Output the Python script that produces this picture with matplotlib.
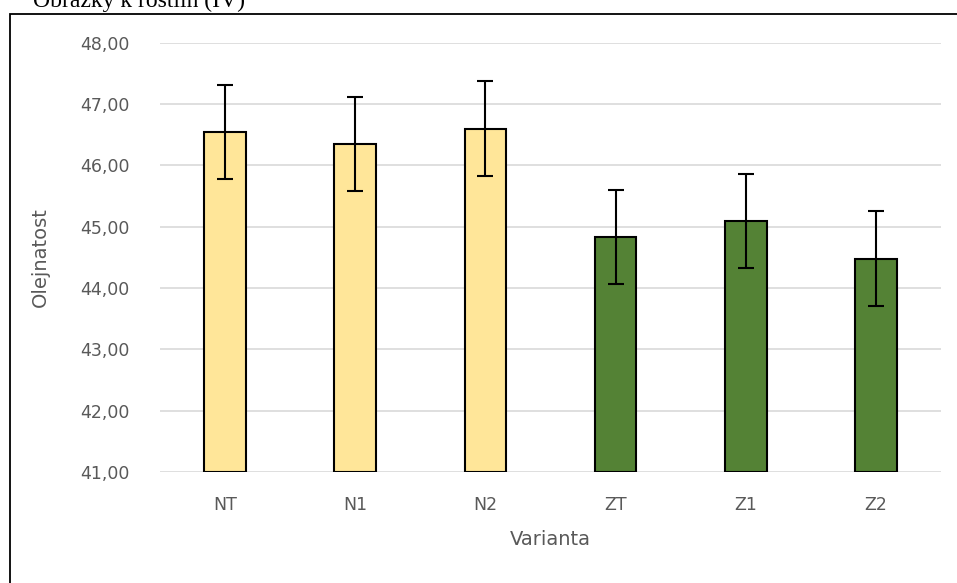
import numpy as np
import matplotlib.pyplot as plt
from matplotlib.patches import Rectangle

# data
varianty = ["NT", "N1", "N2", "ZT", "Z1", "Z2"]
olejnatost = [46.54, 46.35, 46.60, 44.83, 45.09, 44.48]
chyba = [0.77, 0.77, 0.77, 0.77, 0.77, 0.77]
barvy = ["#FFE699", "#FFE699", "#FFE699", "#548235", "#548235", "#548235"]
y_ticks = [41, 42, 43, 44, 45, 46, 47, 48]

W, H = 957, 583
fig = plt.figure(figsize=(W / 100, H / 100), dpi=100)
ax = fig.add_axes([160 / W, 1 - 472 / H, 781 / W, (472 - 42.7) / H])

x = np.arange(len(varianty))
ax.bar(x, [v - 41 for v in olejnatost], bottom=41, width=0.32, color=barvy,
       edgecolor="black", linewidth=1.5, zorder=3)
ax.errorbar(x, olejnatost, yerr=chyba, fmt="none", ecolor="black",
            elinewidth=1.5, capsize=6, capthick=1.5, zorder=4)

ax.set_xlim(-0.5, len(varianty) - 0.5)
ax.set_ylim(41, 48)
ax.set_yticks(y_ticks)
ax.set_yticklabels([f"{t:.2f}".replace(".", ",") for t in y_ticks])
ax.set_xticks(x)
ax.set_xticklabels(varianty)
ax.yaxis.grid(True, color="#D9D9D9", linewidth=1.2, zorder=0)
ax.set_axisbelow(True)
for s in ax.spines.values():
    s.set_visible(False)
ax.tick_params(length=0, labelsize=12.5, colors="#595959")
ax.tick_params(axis="y", pad=22)
ax.tick_params(axis="x", pad=17)

ax.set_ylabel("Olejnatost", fontsize=14, color="#595959", labelpad=22)
ax.set_xlabel("Varianta", fontsize=14, color="#595959", labelpad=12)

# outer frame (extends past the picture edges)
fig.patches.append(Rectangle((10 / W, -0.1), 1.2, 1 - 14 / H + 0.1,
                             transform=fig.transFigure, fill=False,
                             edgecolor="black", linewidth=1.3))

# cut-off caption at the very top
fig.text(245 / W, 1 - 7 / H, "Obrázky k rostlin (IV)", ha="right",
         va="baseline", fontsize=17, family="Liberation Serif", color="black")

fig.savefig("out.png", dpi=100)
